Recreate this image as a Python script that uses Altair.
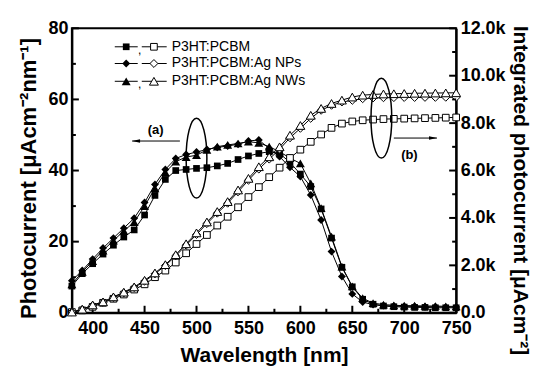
import altair as alt
import pandas as pd

# ---------------- data ----------------
wavelength = list(range(380, 751, 10))
series_names = ["P3HT:PCBM", "P3HT:PCBM:Ag NPs", "P3HT:PCBM:Ag NWs"]
shapes = ["square", "diamond", "triangle-up"]

pc_pcbm = [7.5, 11.0, 13.8, 16.5, 19.0, 21.3, 23.3, 27.5, 33.0, 37.5, 40.0, 40.3, 40.6,
           40.8, 41.3, 42.0, 43.1, 44.1, 44.8, 45.3, 44.8, 42.3, 39.0, 35.5, 29.2, 21.0,
           12.8, 7.3, 3.8, 2.4, 1.9, 1.7, 1.6, 1.5, 1.5, 1.4, 1.4, 1.4]
pc_nps = [9.0, 11.9, 15.1, 18.2, 21.0, 23.8, 26.6, 31.0, 36.1, 40.3, 43.4, 44.5, 45.2,
          45.9, 46.5, 46.9, 47.4, 48.3, 48.6, 46.2, 43.9, 40.9, 38.3, 33.1, 26.1, 17.2,
          10.2, 5.3, 3.0, 2.3, 2.0, 1.9, 1.8, 1.8, 1.7, 1.7, 1.6, 1.6]
pc_nws = [8.0, 11.5, 14.5, 17.5, 20.3, 23.0, 25.5, 30.0, 35.0, 39.5, 42.5, 43.8, 44.3,
          45.8, 46.7, 47.2, 47.6, 48.1, 47.8, 46.7, 45.3, 43.5, 42.0, 36.4, 29.4, 21.4,
          13.0, 7.4, 4.1, 2.7, 2.3, 2.1, 2.0, 2.0, 1.9, 1.9, 1.8, 1.8]

ic_pcbm = [30, 100, 250, 420, 590, 770, 980, 1200, 1500, 1780, 2120, 2510, 2900, 3280,
           3680, 4050, 4450, 4880, 5300, 5720, 6120, 6530, 6880, 7210, 7520, 7800, 7980,
           8070, 8120, 8150, 8170, 8180, 8190, 8200, 8210, 8220, 8230, 8240]
ic_nps = [30, 140, 310, 440, 640, 840, 1060, 1330, 1640, 1990, 2400, 2850, 3300, 3760,
          4200, 4620, 5100, 5590, 6060, 6480, 6900, 7380, 7780, 8200, 8540, 8750, 8890,
          8960, 9030, 9060, 9070, 9075, 9080, 9080, 9085, 9085, 9090, 9090]
ic_nws = [30, 150, 330, 460, 670, 870, 1090, 1370, 1680, 2030, 2450, 2910, 3370, 3830,
          4270, 4690, 5180, 5670, 6160, 6580, 7000, 7490, 7900, 8330, 8620, 8830, 8970,
          9100, 9180, 9210, 9230, 9240, 9250, 9260, 9265, 9270, 9275, 9280]

x_ticks_major = [400, 450, 500, 550, 600, 650, 700, 750]
x_ticks_minor = [425, 475, 525, 575, 625, 675, 725]
yl_ticks_major = [0, 20, 40, 60, 80]
yl_ticks_minor = [10, 30, 50, 70]
yr_ticks_major = [0, 2000, 4000, 6000, 8000, 10000, 12000]
yr_ticks_minor = [1000, 3000, 5000, 7000, 9000, 11000]

FONT = "Liberation Sans"

pc_df = pd.DataFrame({
    "wl": wavelength * 3,
    "pc": pc_pcbm + pc_nps + pc_nws,
    "s": [series_names[0]] * len(wavelength) + [series_names[1]] * len(wavelength)
         + [series_names[2]] * len(wavelength),
})
ic_df = pd.DataFrame({
    "wl": wavelength * 3,
    "ic": ic_pcbm + ic_nps + ic_nws,
    "s": pc_df["s"],
})

# ---------------- encodings ----------------
X = alt.X("wl:Q", scale=alt.Scale(domain=[380, 750], nice=False, zero=False),
          axis=alt.Axis(values=x_ticks_major, title="Wavelength [nm]", titlePadding=7,
                        labelPadding=7, titleFontSize=21))
YL = alt.Y("pc:Q", scale=alt.Scale(domain=[0, 80], nice=False),
           axis=alt.Axis(orient="left", values=yl_ticks_major,
                         title="Photocurrent [μAcm⁻²nm⁻¹]", titlePadding=7, titleFontSize=22,
                         titleY=150))
YR = alt.Y("ic:Q", scale=alt.Scale(domain=[0, 12000], nice=False),
           axis=alt.Axis(orient="right", values=yr_ticks_major,
                         labelExpr="datum.value == 0 ? '0.0' : format(datum.value / 1000, '.1f') + 'k'",
                         title="Integrated photocurrent [μAcm⁻²]", titlePadding=4, titleFontSize=21,
                         titleY=162))
SHAPE = alt.Shape("s:N", scale=alt.Scale(domain=series_names, range=shapes), legend=None)
SIZE_F = alt.Size("s:N", scale=alt.Scale(domain=series_names, range=[45, 80, 70]), legend=None)
SIZE_O = alt.Size("s:N", scale=alt.Scale(domain=series_names, range=[42, 70, 62]), legend=None)

# ---------------- left group (photocurrent) ----------------
pc_line = alt.Chart(pc_df).mark_line(color="black", strokeWidth=1).encode(x=X, y=YL, detail="s:N")
pc_pts = alt.Chart(pc_df).mark_point(filled=True, color="black", opacity=1).encode(
    x=X, y=YL, shape=SHAPE, size=SIZE_F)

# legend (in photocurrent coordinates)
leg_y = [74.8, 70.1, 65.1]
leg_lines = pd.DataFrame({
    "wl": [421.3] * 3 + [447.3] * 3, "wl2": [443.4] * 3 + [471.3] * 3, "pc": leg_y * 2})
leg_f = pd.DataFrame({"wl": [432.3] * 3, "pc": leg_y, "s": series_names})
leg_o = pd.DataFrame({"wl": [459.0] * 3, "pc": leg_y, "s": series_names})
leg_txt = pd.DataFrame({"wl": [476.1] * 3, "pc": leg_y, "label": series_names})
leg_comma = pd.DataFrame({"wl": [445.2, 445.2], "pc": [leg_y[0], leg_y[2]], "label": [",", ","]})

leg_rule = alt.Chart(leg_lines).mark_rule(color="black", strokeWidth=1).encode(
    x=X, x2="wl2:Q", y=YL)
leg_fp = alt.Chart(leg_f).mark_point(filled=True, color="black", opacity=1).encode(
    x=X, y=YL, shape=SHAPE, size=SIZE_F)
leg_op = alt.Chart(leg_o).mark_point(filled=True, fill="white", stroke="black",
                                     strokeWidth=1, opacity=1).encode(
    x=X, y=YL, shape=SHAPE, size=SIZE_O)
leg_t = alt.Chart(leg_txt).mark_text(align="left", baseline="middle", fontSize=14,
                                     font=FONT, color="black").encode(x=X, y=YL, text="label:N")
leg_c = alt.Chart(leg_comma).mark_text(align="center", baseline="middle", fontSize=12,
                                       font=FONT, color="black", dy=3).encode(
    x=X, y=YL, text="label:N")

# annotation (a)
ELLIPSE = ("M0,-1 C0.1436,-1 0.26,-0.5523 0.26,0 C0.26,0.5523 0.1436,1 0,1 "
           "C-0.1436,1 -0.26,0.5523 -0.26,0 C-0.26,-0.5523 -0.1436,-1 0,-1 Z")
ann_a_ell = pd.DataFrame({"wl": [500.0], "pc": [43.5]})
ann_a_arrow = pd.DataFrame({"wl": [438.0], "wl2": [484.0], "pc": [48.3]})
ann_a_head = pd.DataFrame({"wl": [441.8], "pc": [48.3]})
ann_a_lbl = pd.DataFrame({"wl": [460.7], "pc": [51.3], "label": ["(a)"]})

a_ell = alt.Chart(ann_a_ell).mark_point(shape=ELLIPSE, size=6400, filled=False,
                                        stroke="black", strokeWidth=1.5, opacity=1).encode(x=X, y=YL)
a_arrow = alt.Chart(ann_a_arrow).mark_rule(color="black", strokeWidth=1).encode(x=X, x2="wl2:Q", y=YL)
a_head = alt.Chart(ann_a_head).mark_point(shape="M-1,0 L1,-0.45 L1,0.45 Z", size=64, filled=True,
                                          color="black", opacity=1).encode(x=X, y=YL)
a_lbl = alt.Chart(ann_a_lbl).mark_text(fontSize=13, fontWeight="bold", font=FONT,
                                       color="black").encode(x=X, y=YL, text="label:N")

# inward ticks
xt_major = pd.DataFrame({"wl": x_ticks_major})
xt_minor = pd.DataFrame({"wl": x_ticks_minor})
x_tick_maj = alt.Chart(xt_major).mark_rule(color="black", strokeWidth=2).encode(
    x=X, y=alt.value(285), y2=alt.value(278))
x_tick_min = alt.Chart(xt_minor).mark_rule(color="black", strokeWidth=2).encode(
    x=X, y=alt.value(285), y2=alt.value(281))
ylt_major = pd.DataFrame({"pc": yl_ticks_major})
ylt_minor = pd.DataFrame({"pc": yl_ticks_minor})
yl_tick_maj = alt.Chart(ylt_major).mark_rule(color="black", strokeWidth=2).encode(
    y=YL, x=alt.value(0), x2=alt.value(7))
yl_tick_min = alt.Chart(ylt_minor).mark_rule(color="black", strokeWidth=2).encode(
    y=YL, x=alt.value(0), x2=alt.value(4))

left = alt.layer(pc_line, pc_pts, leg_rule, leg_fp, leg_op, leg_t, leg_c,
                 a_ell, a_arrow, a_head, a_lbl, x_tick_maj, x_tick_min,
                 yl_tick_maj, yl_tick_min)

# ---------------- right group (integrated photocurrent) ----------------
ic_line = alt.Chart(ic_df).mark_line(color="black", strokeWidth=1).encode(x=X, y=YR, detail="s:N")
ic_pts = alt.Chart(ic_df).mark_point(filled=True, fill="white", stroke="black",
                                     strokeWidth=1, opacity=1).encode(
    x=X, y=YR, shape=SHAPE, size=SIZE_O)

ann_b_ell = pd.DataFrame({"wl": [678.0], "ic": [8210.0]})
ann_b_arrow = pd.DataFrame({"wl": [690.0], "wl2": [731.5], "ic": [7370.0]})
ann_b_head = pd.DataFrame({"wl": [727.7], "ic": [7370.0]})
ann_b_lbl = pd.DataFrame({"wl": [705.0], "ic": [6650.0], "label": ["(b)"]})

b_ell = alt.Chart(ann_b_ell).mark_point(shape=ELLIPSE, size=6400, filled=False,
                                        stroke="black", strokeWidth=1.5, opacity=1).encode(x=X, y=YR)
b_arrow = alt.Chart(ann_b_arrow).mark_rule(color="black", strokeWidth=1).encode(x=X, x2="wl2:Q", y=YR)
b_head = alt.Chart(ann_b_head).mark_point(shape="M1,0 L-1,-0.45 L-1,0.45 Z", size=64, filled=True,
                                          color="black", opacity=1).encode(x=X, y=YR)
b_lbl = alt.Chart(ann_b_lbl).mark_text(fontSize=13, fontWeight="bold", font=FONT,
                                       color="black").encode(x=X, y=YR, text="label:N")

yrt_major = pd.DataFrame({"ic": yr_ticks_major})
yrt_minor = pd.DataFrame({"ic": yr_ticks_minor})
yr_tick_maj = alt.Chart(yrt_major).mark_rule(color="black", strokeWidth=2).encode(
    y=YR, x=alt.value(385), x2=alt.value(378))
yr_tick_min = alt.Chart(yrt_minor).mark_rule(color="black", strokeWidth=2).encode(
    y=YR, x=alt.value(385), x2=alt.value(381))

right = alt.layer(ic_line, ic_pts, b_ell, b_arrow, b_head, b_lbl, yr_tick_maj, yr_tick_min)

chart = (
    alt.layer(left, right)
    .resolve_scale(y="independent")
    .properties(width=385, height=285,
                autosize=alt.AutoSizeParams(type="none"),
                padding={"left": 64, "top": 20, "right": 80, "bottom": 54})
    .configure_view(stroke="black", strokeWidth=2)
    .configure_axis(domainColor="black", domainWidth=2, ticks=False, grid=False,
                    labelFont=FONT, labelFontWeight="bold", labelFontSize=18,
                    labelColor="black", labelPadding=4, labelFlush=False,
                    titleFont=FONT, titleFontWeight="bold", titleFontSize=20,
                    titleColor="black")
)

chart.save("out.html", embed_options={"renderer": "svg", "actions": False})
